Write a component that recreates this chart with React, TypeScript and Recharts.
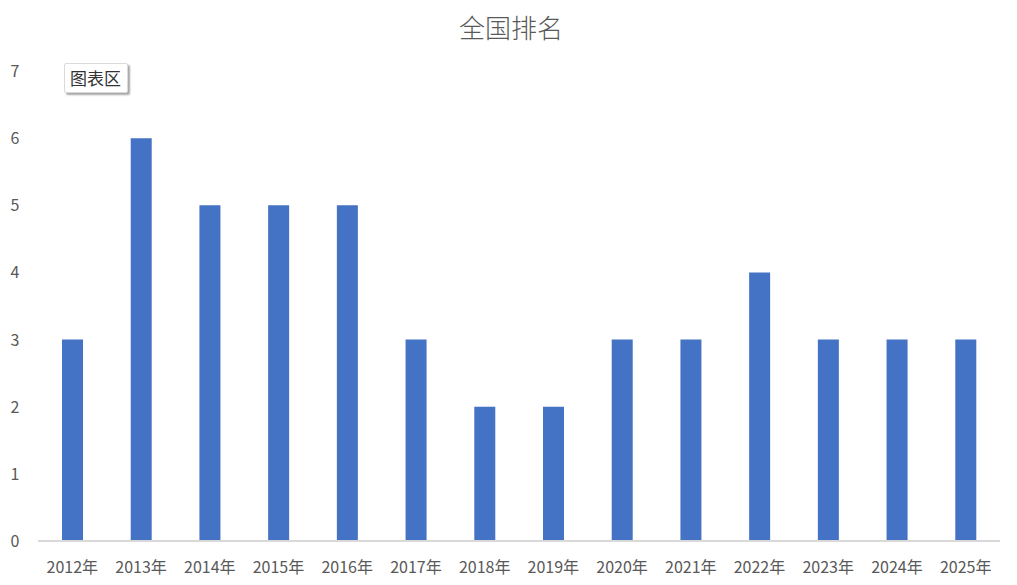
import { BarChart, Bar, XAxis, YAxis } from "recharts";

const years = ["2012年", "2013年", "2014年", "2015年", "2016年", "2017年", "2018年", "2019年", "2020年", "2021年", "2022年", "2023年", "2024年", "2025年"];
const ranks = [3, 6, 5, 5, 5, 3, 2, 2, 3, 3, 4, 3, 3, 3];
const yTicks = [0, 1, 2, 3, 4, 5, 6, 7];

const data = years.map((year, i) => ({ year, rank: ranks[i] }));
const font = '"Noto Sans CJK SC", "Noto Sans", sans-serif';

function YTick({ y, payload }: any) {
  return (
    <text x={15} y={y} dy={6} textAnchor="middle" fill="#595959" fontSize={16} fontFamily={font}>
      {payload.value}
    </text>
  );
}

function XTick({ x, y, payload }: any) {
  return (
    <text x={x} y={y} dy={24} textAnchor="middle" fill="#595959" fontSize={16} fontFamily={font}>
      {payload.value}
    </text>
  );
}

export default function App() {
  return (
    <div style={{ position: "relative", width: 1017, height: 585, background: "#fff", fontFamily: font }}>
      <style>{`body{margin:0}`}</style>
      <div style={{ position: "absolute", top: 8, left: 0, width: 1022, textAlign: "center", fontSize: 26, fontWeight: 300, color: "#595959" }}>
        全国排名
      </div>
      <BarChart width={1017} height={585} data={data} margin={{ top: 71, right: 17, bottom: 0, left: 0 }}>
        <YAxis
          domain={[0, 7]}
          ticks={yTicks}
          width={38}
          axisLine={false}
          tickLine={false}
          tick={<YTick />}
          interval={0}
        />
        <XAxis
          dataKey="year"
          height={44}
          axisLine={{ stroke: "#d9d9d9", strokeWidth: 2 }}
          tickLine={false}
          tick={<XTick />}
          interval={0}
        />
        <Bar dataKey="rank" fill="#4472c4" barSize={21} isAnimationActive={false} />
      </BarChart>
      <div
        style={{
          position: "absolute",
          left: 64,
          top: 63,
          padding: "1px 6px 2px 5px",
          fontSize: 17,
          color: "#333",
          background: "#fff",
          border: "1px solid #dadada",
          borderRadius: 2,
          boxShadow: "2px 2px 2px rgba(0,0,0,0.35)",
        }}
      >
        图表区
      </div>
    </div>
  );
}
